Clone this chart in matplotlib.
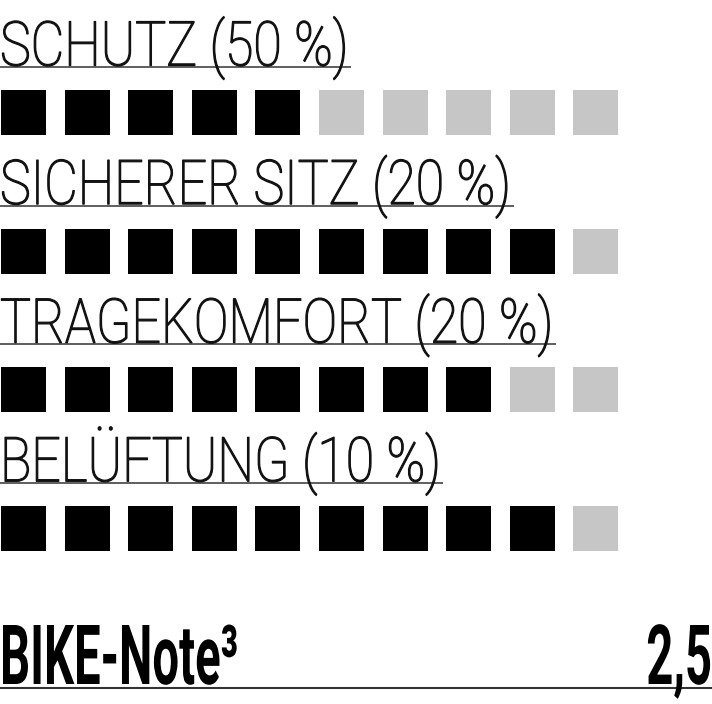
import matplotlib
matplotlib.use("Agg")
import matplotlib.pyplot as plt
from matplotlib.patches import Rectangle
from matplotlib.patheffects import AbstractPathEffect
from matplotlib.transforms import Affine2D
from matplotlib.textpath import TextPath
from matplotlib.font_manager import FontProperties

categories = ["SCHUTZ (50 %)", "SICHERER SITZ (20 %)", "TRAGEKOMFORT (20 %)", "BELÜFTUNG (10 %)"]
filled = [5, 9, 8, 9]
total_squares = 10
score_label = "BIKE-Note³"
score_value = "2,5"


class VStretch(AbstractPathEffect):
    """Stretch glyphs vertically around the baseline (condensed look)."""

    def __init__(self, sy, y0, stroke=0.0):
        super().__init__()
        self.sy = sy
        self.y0 = y0
        self.stroke = stroke

    def draw_path(self, renderer, gc, tpath, affine, rgbFace=None):
        t = affine + Affine2D().translate(0, -self.y0).scale(1, self.sy).translate(0, self.y0)
        if self.stroke > 0 and rgbFace is not None:
            gc0 = renderer.new_gc()
            gc0.copy_properties(gc)
            gc0.set_linewidth(self.stroke)
            gc0.set_foreground(rgbFace)
            gc0.set_joinstyle("round")
            renderer.draw_path(gc0, tpath, t, rgbFace)
            gc0.restore()
        else:
            renderer.draw_path(gc, tpath, t, rgbFace)


W, H = 712, 704
fig = plt.figure(figsize=(W / 100, H / 100), dpi=100)
ax = fig.add_axes([0, 0, 1, 1])
ax.set_xlim(0, W)
ax.set_ylim(H, 0)
ax.axis("off")
renderer = fig.canvas.get_renderer()

light = FontProperties(family=["Roboto", "DejaVu Sans"], weight="light")
bold = FontProperties(family=["Roboto", "DejaVu Sans"], weight="bold")


def fit(prop, text, target_w, target_cap):
    probe = ax.text(0, 0, text, fontproperties=prop, fontsize=40)
    w = probe.get_window_extent(renderer).width
    probe.remove()
    fs = 40 * target_w / w
    cap = TextPath((0, 0), "H", size=1, prop=prop).get_extents().height * fs * 100 / 72
    return fs, target_cap / cap


pitch_x = 63.6
sq = 45
row0 = 90
row_pitch = 138.6
line0 = 67

fs_l, sy_l = fit(light, categories[0], 348, 44)
for i, (cat, n) in enumerate(zip(categories, filled)):
    y = row0 + i * row_pitch
    for j in range(total_squares):
        c = "#000000" if j < n else "#c6c6c6"
        ax.add_patch(Rectangle((1 + j * pitch_x, y), sq, sq, facecolor=c, edgecolor="none"))
    ly = line0 + i * row_pitch
    by = ly - 1.5
    y0 = ax.transData.transform((0, by))[1]
    t = ax.text(0, by, cat, fontproperties=light, fontsize=fs_l, ha="left", va="baseline",
                color="#111111", path_effects=[VStretch(sy_l, y0, stroke=0.9)])
    bb = t.get_window_extent(renderer)
    x1 = ax.transData.inverted().transform((bb.x1, bb.y0))[0]
    ax.plot([0, x1 + 2], [ly, ly], color="#333333", lw=1.1, solid_capstyle="butt")

fs_b, sy_b = fit(bold, score_label, 238, 59)
by = 684
y0 = ax.transData.transform((0, by))[1]
ax.text(0, by, score_label, fontproperties=bold, fontsize=fs_b, ha="left", va="baseline",
        color="#000000", path_effects=[VStretch(sy_b, y0)])
ax.text(W, by, score_value, fontproperties=bold, fontsize=fs_b, ha="right", va="baseline",
        color="#000000", path_effects=[VStretch(sy_b, y0)])
ax.plot([0, W], [687.5, 687.5], color="#333333", lw=1.5, solid_capstyle="butt")

fig.savefig("out.png", dpi=100)
